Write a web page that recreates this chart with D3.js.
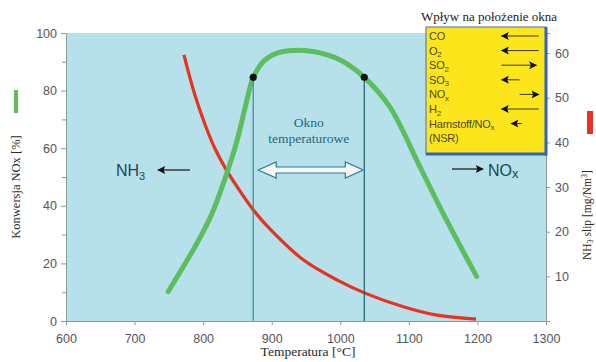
<!DOCTYPE html>
<html>
<head>
<meta charset="utf-8">
<script src="https://cdn.jsdelivr.net/npm/d3@7"></script>
<style>
  body { margin: 0; background: #fff; }
  #chart { width: 596px; height: 362px; }
  .tick text { font-family: "Liberation Sans", Arial, sans-serif; font-size: 12.5px; fill: #555; }
  .serif { font-family: "Liberation Serif", "DejaVu Serif", serif; }
  .sans { font-family: "Liberation Sans", Arial, sans-serif; }
</style>
</head>
<body>
<div id="chart"></div>
<script>
// temperatures [°C] and NOx conversion [%] (green)
const noxTemp = [749, 791, 812, 832, 849, 861, 868, 873, 890, 915, 960, 1000, 1035, 1072, 1116, 1155, 1199];
const noxConv = [10.2, 27, 36.8, 49.5, 62.3, 73.9, 80.8, 84.6, 90.6, 93.5, 93.6, 90.6, 84.6, 74.4, 53.6, 35, 15.4];
// NH3 slip [mg/Nm3] (red, right axis)
const slipTemp = [772, 788, 803, 817, 834, 856, 873, 898, 946, 995, 1035, 1092, 1141, 1198];
const slipVal = [59.6, 50.6, 43.9, 38.7, 33.8, 28.6, 24.9, 20.5, 13.7, 9.2, 6.3, 3.2, 1.3, 0.4];
// window limits
const windowTemps = [873, 1035];
const xTicks = [600, 700, 800, 900, 1000, 1100, 1200, 1300];
const leftTicks = [0, 20, 40, 60, 80, 100];
const leftMinor = [10, 30, 50, 70, 90];
const rightTicks = [10, 20, 30, 40, 50, 60];
// influence box: label, subscript, arrow direction, arrow from/to (share of box width)
const boxLabels = ["CO", "O", "SO", "SO", "NO", "H", "Harnstoff/NO", "(NSR)"];
const boxSubs = ["", "2", "2", "3", "x", "2", "x", ""];
const boxDirs = ["left", "left", "right", "left", "right", "left", "left", ""];
const boxFrom = [0.63, 0.63, 0.63, 0.63, 0.78, 0.63, 0.71, 0];
const boxTo = [0.94, 0.94, 0.92, 0.78, 0.94, 0.94, 0.80, 0];

class WindowChart {
  constructor(containerId) {
    this.margin = { top: 33, right: 50, bottom: 41, left: 66 };
    this.width = 596 - this.margin.left - this.margin.right;
    this.height = 362 - this.margin.top - this.margin.bottom;
    this.containerId = containerId;
  }

  createSVG() {
    const root = d3.select(`#${this.containerId}`)
      .append("svg")
      .attr("width", 596)
      .attr("height", 362);
    root.append("defs").append("marker")
      .attr("id", "headBig")
      .attr("viewBox", "0 0 10 10")
      .attr("refX", 9).attr("refY", 5)
      .attr("markerWidth", 12).attr("markerHeight", 8)
      .attr("markerUnits", "userSpaceOnUse")
      .attr("orient", "auto")
      .append("path").attr("d", "M0,0 L10,5 L0,10 L2,5 Z").attr("fill", "#111");
    this.root = root;
    this.svg = root.append("g")
      .attr("transform", `translate(${this.margin.left}, ${this.margin.top})`);
  }

  createScales() {
    this.x = d3.scaleLinear().domain([600, 1300]).range([0, this.width]);
    this.y = d3.scaleLinear().domain([0, 100]).range([this.height, 0]);
    this.y2 = d3.scaleLinear().domain([0, 64.5]).range([this.height, 0]);
  }

  createBackground() {
    this.svg.append("rect")
      .attr("width", this.width)
      .attr("height", this.height)
      .attr("fill", "#b6e0ea");
  }

  createAxes() {
    const axisColor = "#8a9a9a";
    const gx = this.svg.append("g")
      .attr("transform", `translate(0, ${this.height})`)
      .call(d3.axisBottom(this.x).tickValues(xTicks).tickFormat(d3.format("d")).tickSize(4).tickPadding(5));
    this.svg.append("g")
      .call(d3.axisLeft(this.y).tickValues(leftTicks).tickSize(5).tickPadding(4));
    this.svg.append("g")
      .call(d3.axisLeft(this.y).tickValues(leftMinor).tickSize(4).tickFormat(""))
      .call((g) => g.select(".domain").remove());
    this.svg.append("g")
      .attr("transform", `translate(${this.width}, 0)`)
      .call(d3.axisRight(this.y2).tickValues(rightTicks).tickSize(4).tickPadding(5));
    this.svg.selectAll(".domain, .tick line").attr("stroke", axisColor);
    gx.selectAll(".tick text").attr("dy", "1em");
  }

  createCurves() {
    const line = d3.line()
      .x((d) => this.x(d[0]))
      .y((d) => d[1])
      .curve(d3.curveCatmullRom.alpha(0.5));
    this.svg.append("path")
      .datum(slipTemp.map((t, i) => [t, this.y2(slipVal[i])]))
      .attr("fill", "none")
      .attr("stroke", "#e8321e")
      .attr("stroke-width", 3.2)
      .attr("d", line);
    this.svg.append("path")
      .datum(noxTemp.map((t, i) => [t, this.y(noxConv[i])]))
      .attr("fill", "none")
      .attr("stroke", "#5cbe5f")
      .attr("stroke-width", 5)
      .attr("stroke-linecap", "round")
      .attr("d", line);
  }

  createWindow() {
    const yAt = (t) => this.y(noxConv[noxTemp.indexOf(t)]);
    this.svg.selectAll(".win")
      .data(windowTemps)
      .join("line")
      .attr("x1", (d) => this.x(d)).attr("x2", (d) => this.x(d))
      .attr("y1", (d) => yAt(d)).attr("y2", this.height)
      .attr("stroke", (d, i) => i === 0 ? "#3a8a96" : "#1f5f6a")
      .attr("stroke-width", 1.2);
    this.svg.selectAll(".dot")
      .data(windowTemps)
      .join("circle")
      .attr("cx", (d) => this.x(d))
      .attr("cy", (d) => yAt(d))
      .attr("r", 3.6)
      .attr("fill", "#111");

    // double arrow
    const x0 = this.x(windowTemps[0]) + 5, x1 = this.x(windowTemps[1]) - 1;
    const cy = 137, h = 3, hw = 8, hl = 18;
    const pts = [
      [x0, cy], [x0 + hl, cy - hw], [x0 + hl, cy - h], [x1 - hl, cy - h], [x1 - hl, cy - hw],
      [x1, cy], [x1 - hl, cy + hw], [x1 - hl, cy + h], [x0 + hl, cy + h], [x0 + hl, cy + hw]
    ];
    this.svg.append("path")
      .attr("d", "M" + pts.map((p) => p.join(",")).join("L") + "Z")
      .attr("fill", "#f6f6f2")
      .attr("stroke", "#2a7f8f")
      .attr("stroke-width", 1.2);

    const mid = (this.x(windowTemps[0]) + this.x(windowTemps[1])) / 2;
    this.svg.append("text")
      .attr("class", "serif")
      .attr("x", mid).attr("y", 94)
      .attr("text-anchor", "middle")
      .attr("font-size", 13.5)
      .attr("fill", "#1d6a7d")
      .selectAll("tspan")
      .data(["Okno", "temperaturowe"])
      .join("tspan")
      .attr("x", mid)
      .attr("dy", (d, i) => i === 0 ? 0 : 16)
      .text((d) => d);
  }

  createSpeciesLabels() {
    const c = "#1b4650";
    const t1 = this.svg.append("text").attr("class", "sans")
      .attr("x", 50).attr("y", 143).attr("font-size", 16).attr("fill", c);
    t1.append("tspan").text("NH");
    t1.append("tspan").attr("font-size", 11).attr("dy", 4).text("3");
    this.svg.append("line")
      .attr("x1", 124).attr("x2", 92).attr("y1", 137).attr("y2", 137)
      .attr("stroke", "#111").attr("stroke-width", 1.2)
      .attr("marker-end", "url(#headBig)");

    this.svg.append("line")
      .attr("x1", 386).attr("x2", 417).attr("y1", 136).attr("y2", 136)
      .attr("stroke", "#111").attr("stroke-width", 1.2)
      .attr("marker-end", "url(#headBig)");
    const t2 = this.svg.append("text").attr("class", "sans")
      .attr("x", 422).attr("y", 143).attr("font-size", 16).attr("fill", c);
    t2.append("tspan").text("NO");
    t2.append("tspan").attr("font-size", 13).attr("dy", 2).text("x");
  }

  createInfluenceBox() {
    const bx = 426, by = 27, bw = 120, bh = 127;
    const g = this.root.append("g");
    g.append("rect")
      .attr("x", bx).attr("y", by).attr("width", bw).attr("height", bh)
      .attr("fill", "#fde51c")
      .attr("stroke", "#3d6fc4").attr("stroke-width", 1);
    g.append("line").attr("x1", bx + bw).attr("x2", bx + bw).attr("y1", by).attr("y2", by + bh + 1.5)
      .attr("stroke", "#2f63c0").attr("stroke-width", 3);
    g.append("line").attr("x1", bx).attr("x2", bx + bw).attr("y1", by + bh).attr("y2", by + bh)
      .attr("stroke", "#2f63c0").attr("stroke-width", 3);

    this.root.append("text")
      .attr("class", "serif")
      .attr("x", 489).attr("y", 21)
      .attr("text-anchor", "middle")
      .attr("font-size", 13)
      .attr("fill", "#222")
      .text("Wpływ na położenie okna");

    const rowY = (i) => by + 13 + i * 14.6;
    boxLabels.forEach((lab, i) => {
      const t = g.append("text").attr("class", "sans")
        .attr("x", bx + 3).attr("y", rowY(i))
        .attr("font-size", 11).attr("fill", "#4a4a28")
        .attr("letter-spacing", -0.2);
      t.append("tspan").text(lab);
      if (boxSubs[i]) t.append("tspan").attr("font-size", 8).attr("dy", 2.5).text(boxSubs[i]);
      if (boxDirs[i]) {
        const a = bx + boxFrom[i] * bw, b = bx + boxTo[i] * bw;
        const ay = rowY(i) - 4;
        g.append("line")
          .attr("x1", boxDirs[i] === "left" ? b : a)
          .attr("x2", boxDirs[i] === "left" ? a : b)
          .attr("y1", ay).attr("y2", ay)
          .attr("stroke", "#222").attr("stroke-width", 0.9)
          .attr("marker-end", "url(#headBig)");
      }
    });
  }

  createTitles() {
    const r = this.root;
    r.append("text").attr("class", "serif")
      .attr("transform", "translate(20, 187) rotate(-90)")
      .attr("text-anchor", "middle")
      .attr("font-size", 12.5).attr("fill", "#2a2a2a")
      .text("Konwersja NOx  [%]");
    r.append("rect").attr("x", 14).attr("y", 90).attr("width", 4).attr("height", 23)
      .attr("fill", "#5cbe5f");

    const t = r.append("text").attr("class", "serif")
      .attr("transform", "translate(591, 260) rotate(-90)")
      .attr("text-anchor", "start")
      .attr("font-size", 11.5).attr("fill", "#2a2a2a");
    t.append("tspan").text("NH");
    t.append("tspan").attr("font-size", 8).attr("dy", 2).text("3");
    t.append("tspan").attr("dy", -2).text(" slip [mg/Nm");
    t.append("tspan").attr("font-size", 8).attr("dy", -4).text("3");
    t.append("tspan").attr("dy", 4).text("]");
    r.append("rect").attr("x", 587).attr("y", 111).attr("width", 6).attr("height", 23)
      .attr("fill", "#e8321e");

    r.append("text").attr("class", "serif")
      .attr("x", 308).attr("y", 356)
      .attr("text-anchor", "middle")
      .attr("font-size", 13.5).attr("fill", "#2a2a2a")
      .text("Temperatura  [°C]");
  }

  render() {
    this.createSVG();
    this.createScales();
    this.createBackground();
    this.createAxes();
    this.createCurves();
    this.createWindow();
    this.createSpeciesLabels();
    this.createInfluenceBox();
    this.createTitles();
  }
}

const chart = new WindowChart("chart");
chart.render();
</script>
</body>
</html>
